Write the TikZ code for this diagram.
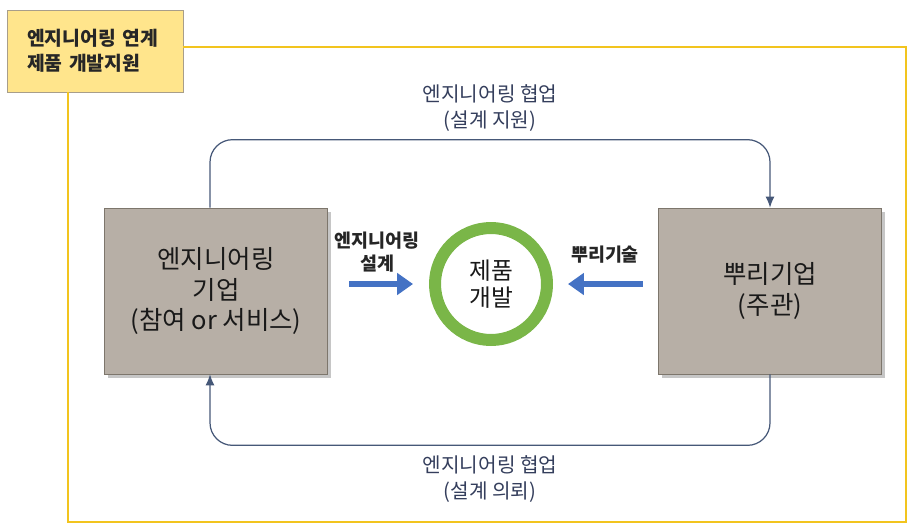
\documentclass[tikz,border=0pt]{standalone}
\usepackage{fontspec}
\setmainfont{Noto Sans CJK KR}
\usetikzlibrary{arrows.meta}
\usetikzlibrary{positioning}
\usetikzlibrary{shadows}
\definecolor{titlefill}{RGB}{255,229,140}
\definecolor{titleline}{RGB}{168,158,138}
\definecolor{framecol}{RGB}{242,196,30}
\definecolor{boxfill}{RGB}{183,175,166}
\definecolor{boxline}{RGB}{125,118,108}
\definecolor{ringcol}{RGB}{122,182,72}
\definecolor{flowcol}{RGB}{68,114,196}
\definecolor{linkcol}{RGB}{70,88,120}
\definecolor{notecol}{RGB}{52,62,92}
\tikzset{every picture/.style={node distance=4mm, >={Latex[length=2.2mm,width=1.8mm]}}}
\tikzstyle{titlebox} = [draw=titleline, fill=titlefill, minimum width=3.52cm, minimum height=1.64cm, inner xsep=0.4cm, text width=2.72cm, align=left, font=\bfseries\fontsize{11}{14}\selectfont, text=black!85]
\tikzstyle{frame}    = [draw=framecol, line width=1.1pt]
\tikzstyle{firm}     = [draw=boxline, fill=boxfill, minimum width=4.45cm, minimum height=3.32cm, align=center, font=\fontsize{14.5}{17.5}\selectfont, text=black!90, drop shadow={shadow xshift=2pt, shadow yshift=-2pt, opacity=0.45}]
\tikzstyle{ring}     = [draw=ringcol, circle, line width=0.24cm, minimum size=2.24cm, inner sep=0pt, align=center, font=\fontsize{13.5}{15}\selectfont, text=black!90]
\tikzstyle{flow}     = [draw=flowcol, line width=3.4pt, -{Triangle[length=9pt,width=12pt]}]
\tikzstyle{link}     = [->, draw=linkcol, line width=0.7pt, rounded corners=0.45cm]
\tikzstyle{tag}      = [align=center, font=\bfseries\fontsize{10.5}{13.5}\selectfont, text=black!85]
\tikzstyle{note}     = [align=center, font=\fontsize{11.5}{15.3}\selectfont, text=notecol]

\begin{document}
\begin{tikzpicture}[x=0.02cm, y=-0.02cm]
	\useasboundingbox (0,0) rectangle (911,527);

	\node[titlebox]	(Title)	at (95,51)		{엔지니어링 연계\\제품 개발지원};
	\node[firm]		(Firm)	at (216,291)	{엔지니어링\\기업\\(참여 or 서비스)};
	\node[firm]		(Root)	at (770,291)	{뿌리기업\\(주관)};
	\node[ring]		(Dev)	at (491,284)	{제품\\개발};
	\node[tag]		(EngTag)	at (377,252)	{엔지니어링\\설계};
	\node[tag]		(RootTag)	at (605,255)	{뿌리기술};
	\node[note]		(TopNote)	at (490,108)	{엔지니어링 협업\\(설계 지원)};
	\node[note]		(BotNote)	at (490,479)	{엔지니어링 협업\\(설계 의뢰)};
	\coordinate		(fsw)	at (68,522);

	% yellow frame
	\draw[frame] ([yshift=0.08cm]Title.east) -| (906,522) -- (fsw) -- (fsw |- Title.south);

	\draw[flow] ([xshift=-1.6cm]Dev.west) -- ([xshift=-0.32cm]Dev.west);
	\draw[flow] ([xshift=1.8cm]Dev.east) -- ([xshift=0.3cm]Dev.east);

	\draw[link] ([xshift=-0.12cm]Firm.north) -- ++(0,-68) -| (Root.north);
	\draw[link] (Root.south) -- ++(0,71) -| ([xshift=-0.12cm]Firm.south);
\end{tikzpicture}
\end{document}
